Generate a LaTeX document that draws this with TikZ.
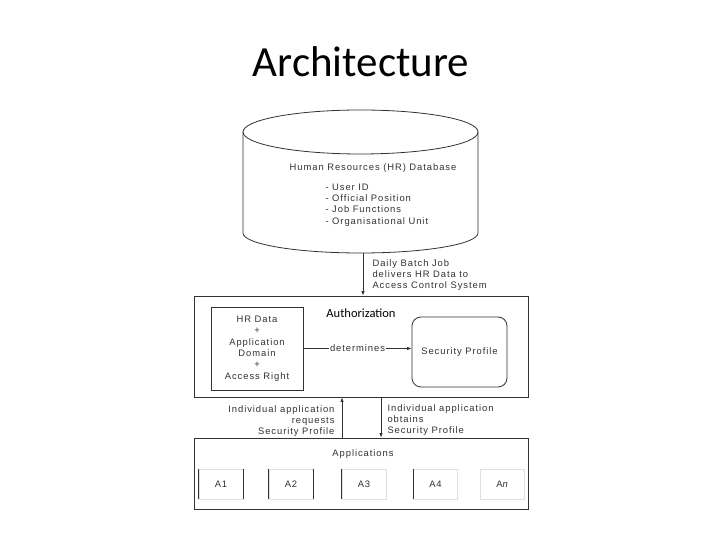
\documentclass[tikz,border=0pt]{standalone}
\usepackage{fontspec}
\setmainfont{Liberation Sans}
\newfontfamily\calibri{Carlito}
\newfontfamily\diagfont[LetterSpace=10]{Liberation Sans}
\usepackage{xcolor}
\definecolor{ink}{RGB}{50,50,50}
\usepackage{tikz}
\usetikzlibrary{arrows.meta, positioning, calc}

\begin{document}
\begin{tikzpicture}[
    x=1pt, y=1pt,
    >={Latex[length=4.5pt,width=3.5pt]},
    font=\diagfont\fontsize{9.4}{11.3}\selectfont,
    text=ink,
    line/.style={draw=ink, line width=0.8pt},
    box/.style={draw=ink, line width=0.8pt, rectangle, align=center, inner sep=0pt},
    appbox/.style={draw=black!12, line width=0.6pt, rectangle, minimum width=44, minimum height=30, inner sep=0pt},
    conn/.style={->, draw=ink, line width=0.8pt}
  ]
  \useasboundingbox[fill=white] (0,0) rectangle (720,540);

  % Title
  \node (title) at (361,463) [anchor=base, text=black, font=\calibri\fontsize{43}{46}\selectfont] {Architecture};

  % HR database cylinder
  \draw[line] (243,408) -- (243,307) arc[start angle=180, end angle=360, x radius=117.5, y radius=20] -- (478,408);
  \draw[line] (360.5,408) ellipse[x radius=117.5, y radius=22];
  \node (dbtitle) at (373,372) {Human Resources (HR) Database};
  \node (dblist) at (322,335) [anchor=west, align=left] {- User ID\\- Official Position\\- Job Functions\\- Organisational Unit};
  \coordinate (dbbot) at (363,287);

  % Authorization layer
  \node (auth) at (361,193.5) [box, minimum width=334, minimum height=101] {};
  \node (authlbl) at (361,227) [text=black, font=\calibri\fontsize{12.5}{14}\selectfont] {Authorization};
  \node (hrbox) at (257,191.5) [box, minimum width=92, minimum height=83] {HR Data\\+\\Application\\Domain\\+\\Access Right};
  \node (secprof) at (459.5,188) [box, rounded corners=9pt, minimum width=95, minimum height=70] {Security Profile};

  % Applications layer
  \node (apps) at (361,66.5) [box, minimum width=334, minimum height=71] {};
  \node (appslbl) at (363,86) {Applications};
  \node (a1) at (221,56) [appbox] {A1};
  \node (a2) at (291,56) [appbox] {A2};
  \node (a3) at (364,56) [appbox] {A3};
  \node (a4) at (435.5,56) [appbox] {A4};
  \node (an) at (502.5,56) [appbox] {A\textit{n}};
  \draw[line] (a1.north west) -- (a1.south west) (a1.north east) -- (a1.south east);
  \draw[line] (a2.north west) -- (a2.south west) (a2.north east) -- (a2.south east);
  \draw[line] (a3.north west) -- (a3.south west);
  \draw[line] (a4.north west) -- (a4.south west);

  % Connectors
  \draw[conn] (dbbot) -- (dbbot |- auth.north);
  \node (batchlbl) at (369,265) [anchor=west, align=left] {Daily Batch Job\\delivers HR Data to\\Access Control System};
  \draw[conn] (hrbox.east) -- node[fill=white, inner sep=1pt] {determines} (hrbox.east -| secprof.west);
  \draw[conn] ($(apps.north)+(-19,0)$) -- ($(auth.south)+(-19,0)$);
  \draw[conn] ($(auth.south)+(20,0)$) -- ($(apps.north)+(20,0)$);
  \node (reqlbl) at (338,119) [anchor=east, align=right] {Individual application\\requests\\Security Profile};
  \node (oblbl) at (384,120) [anchor=west, align=left] {Individual application\\obtains\\Security Profile};

\end{tikzpicture}
\end{document}
